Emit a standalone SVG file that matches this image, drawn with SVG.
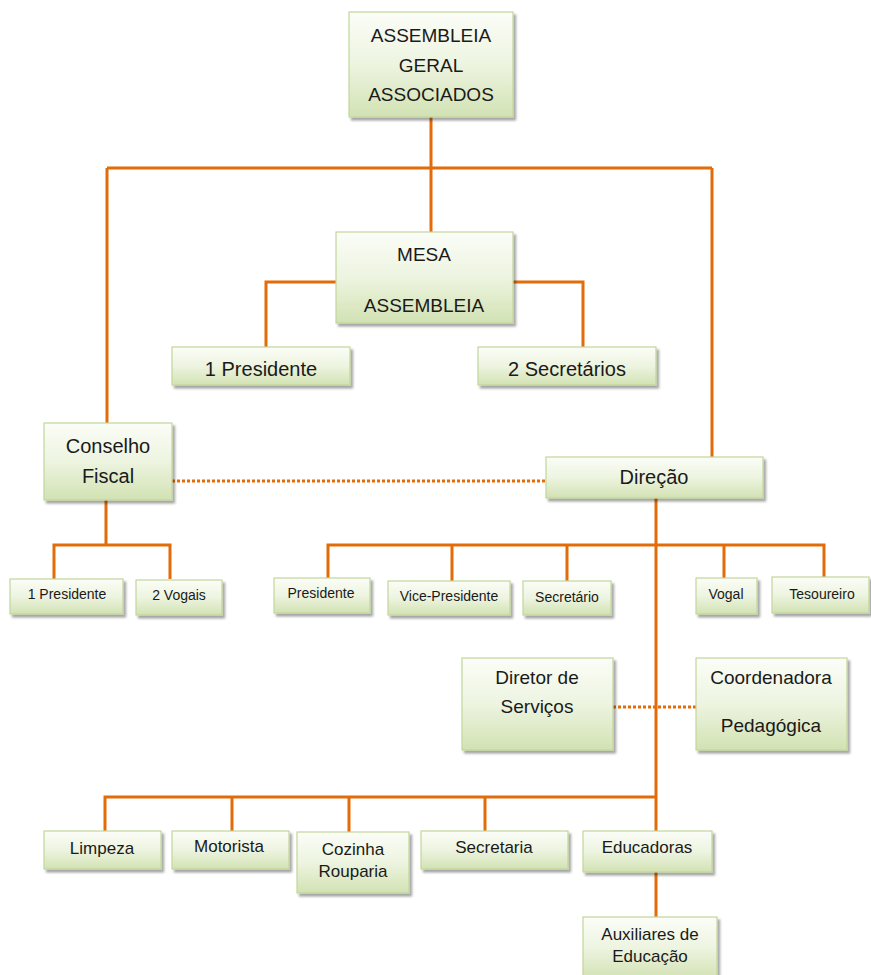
<svg xmlns="http://www.w3.org/2000/svg" width="871" height="975" viewBox="0 0 871 975">
<defs>
<linearGradient id="g" x1="0" y1="0" x2="0" y2="1">
<stop offset="0" stop-color="#fbfdf7"/>
<stop offset="0.5" stop-color="#edf4e0"/>
<stop offset="1" stop-color="#d2e2b3"/>
</linearGradient>
<filter id="sh" x="-10%" y="-10%" width="130%" height="140%">
<feDropShadow dx="2.5" dy="3" stdDeviation="1.2" flood-color="#000" flood-opacity="0.35"/>
</filter>
<style>
.b{fill:url(#g);stroke:#c2d69b;stroke-width:1.2;filter:url(#sh)}
.t{font-family:"Liberation Sans",Arial,sans-serif;fill:#1a1a1a;text-anchor:middle}
.L{font-size:19px}
.M{font-size:17px}
.S{font-size:14px}
.c{fill:none;stroke:#e36c0a;stroke-width:3}
.d{fill:none;stroke:#e36c0a;stroke-width:3;stroke-dasharray:3 2}
</style>
</defs>
<rect width="871" height="975" fill="#fff"/>
<g id="connectors">
<path class="c" d="M431 117V168M107 168H712M431 168V232M107 168V423M712 168V457"/>
<path class="c" d="M336 282H266V347M513 282H583V347"/>
<path class="c" d="M106 500V545M54 579V545H170V579"/>
<path class="c" d="M656 498V831M328 578V545H824V577M452 545V581M567 545V581M724 545V578"/>
<path class="c" d="M105 831V797H656M232 797V831M349 797V832M485 797V831M656 872V917"/>
<path class="d" d="M172 481H546"/>
<path class="d" d="M613 707H696"/>
</g>
<g id="assembleia-geral"><rect class="b" x="349" y="12" width="164" height="105"/><text class="t L" x="431" y="42">ASSEMBLEIA</text><text class="t L" x="431" y="71.5">GERAL</text><text class="t L" x="431" y="101">ASSOCIADOS</text></g>
<g id="mesa"><rect class="b" x="336" y="232" width="177" height="91"/><text class="t L" x="424" y="261">MESA</text><text class="t L" x="424" y="312">ASSEMBLEIA</text></g>
<g id="mesa-presidente"><rect class="b" x="172" y="347" width="178" height="38"/><text class="t L" x="261" y="376" style="font-size:20px">1 Presidente</text></g>
<g id="mesa-secretarios"><rect class="b" x="478" y="347" width="178" height="38"/><text class="t L" x="567" y="376" style="font-size:20px">2 Secretários</text></g>
<g id="conselho-fiscal"><rect class="b" x="44" y="423" width="128" height="77"/><text class="t L" x="108" y="453" style="font-size:20px">Conselho</text><text class="t L" x="108" y="483" style="font-size:20px">Fiscal</text></g>
<g id="cf-presidente"><rect class="b" x="10" y="579" width="113" height="35"/><text class="t S" x="67" y="599">1 Presidente</text></g>
<g id="cf-vogais"><rect class="b" x="136" y="580" width="86" height="35"/><text class="t S" x="179" y="600">2 Vogais</text></g>
<g id="direcao"><rect class="b" x="546" y="457" width="217" height="41"/><text class="t L" x="654" y="484" style="font-size:20px">Direção</text></g>
<g id="presidente"><rect class="b" x="274" y="578" width="96" height="35"/><text class="t S" x="321" y="598">Presidente</text></g>
<g id="vice-presidente"><rect class="b" x="388" y="581" width="122" height="34"/><text class="t S" x="449" y="601">Vice-Presidente</text></g>
<g id="secretario"><rect class="b" x="523" y="581" width="88" height="34"/><text class="t S" x="567" y="602">Secretário</text></g>
<g id="vogal"><rect class="b" x="696" y="578" width="61" height="36"/><text class="t S" x="726" y="599">Vogal</text></g>
<g id="tesoureiro"><rect class="b" x="772" y="577" width="97" height="36"/><text class="t S" x="822" y="599">Tesoureiro</text></g>
<g id="diretor-servicos"><rect class="b" x="462" y="658" width="151" height="92"/><text class="t L" x="537" y="684">Diretor de</text><text class="t L" x="537" y="713">Serviços</text></g>
<g id="coordenadora"><rect class="b" x="696" y="658" width="151" height="92"/><text class="t L" x="771" y="684">Coordenadora</text><text class="t L" x="771" y="732">Pedagógica</text></g>
<g id="limpeza"><rect class="b" x="44" y="831" width="117" height="38"/><text class="t M" x="102" y="854">Limpeza</text></g>
<g id="motorista"><rect class="b" x="172" y="831" width="117" height="38"/><text class="t M" x="229" y="852">Motorista</text></g>
<g id="cozinha"><rect class="b" x="297" y="832" width="112" height="61"/><text class="t M" x="353" y="855">Cozinha</text><text class="t M" x="353" y="877">Rouparia</text></g>
<g id="secretaria"><rect class="b" x="421" y="831" width="147" height="38"/><text class="t M" x="494" y="853">Secretaria</text></g>
<g id="educadoras"><rect class="b" x="583" y="831" width="129" height="41"/><text class="t M" x="647" y="853">Educadoras</text></g>
<g id="auxiliares"><rect class="b" x="583" y="917" width="134" height="62"/><text class="t M" x="650" y="940">Auxiliares de</text><text class="t M" x="650" y="962">Educação</text></g>
</svg>
